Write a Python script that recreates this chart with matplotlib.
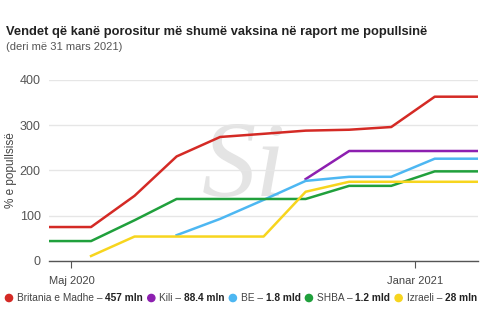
import matplotlib
matplotlib.use('Agg')
import matplotlib.pyplot as plt
import pandas as pd
import numpy as np

# monthly snapshots of doses ordered, % of population
dates = pd.to_datetime(['2020-04-15', '2020-05-15', '2020-06-15', '2020-07-15',
                        '2020-08-15', '2020-09-15', '2020-10-15', '2020-11-15',
                        '2020-12-15', '2021-01-15', '2021-02-15'])
uk = [75, 75, 144, 231, 274, 281, 288, 290, 296, 363, 363]
chile = [None, None, None, None, None, None, 181, 243, 243, 243, 243]
eu = [None, None, None, 57, 93, 135, 177, 186, 186, 226, 226]
usa = [44, 44, 90, 137, 137, 137, 137, 166, 166, 198, 198]
israel = [None, 11, 54, 54, 54, 54, 153, 175, 175, 175, 175]

names = ['Britania e Madhe', 'Kili', 'BE', 'SHBA', 'Izraeli']
doses = ['457 mln', '88.4 mln', '1.8 mld', '1.2 mld', '28 mln']
colors = ['#d42a25', '#8d1fb0', '#4db7f2', '#20a03c', '#f7d51e']
series = [uk, chile, eu, usa, israel]

tick_dates = pd.to_datetime(['2020-05-01', '2021-01-01'])
tick_labels = ['Maj 2020', 'Janar 2021']

plt.rcParams['font.family'] = ['Liberation Sans', 'DejaVu Sans']

W, H = 485, 325
fig = plt.figure(figsize=(W / 100, H / 100), dpi=100)
ax = fig.add_axes([0.101, 0.197, 0.885, 0.557])

# faint logo behind the lines
ax.text(0.455, 0.5, 'Si', transform=ax.transAxes, ha='center', va='center',
        fontsize=78, fontstyle='italic', family='Liberation Serif',
        color='#e4e4e4', zorder=0)

for vals, c in zip(series, colors):
    y = np.array([np.nan if v is None else v for v in vals], dtype=float)
    ax.plot(dates, y, color=c, lw=1.8, zorder=3)

ax.set_xlim(dates[0], dates[-1])
ax.set_ylim(0, 400)
ax.set_yticks([0, 100, 200, 300, 400])
ax.yaxis.grid(True, color='#e6e6e6', lw=1)
ax.set_axisbelow(True)
for s in ['top', 'right', 'left']:
    ax.spines[s].set_visible(False)
ax.spines['bottom'].set_color('#555555')
ax.spines['bottom'].set_linewidth(1)
ax.spines['bottom'].set_zorder(4)
ax.set_xticks(tick_dates)
ax.set_xticklabels(tick_labels)
ax.tick_params(axis='x', length=5, color='#555555', labelsize=8,
               labelcolor='#444444', pad=6)
ax.tick_params(axis='y', length=0, labelsize=9, labelcolor='#555555', pad=6)
ax.set_ylabel('% e popullsisë', fontsize=8.5, color='#444444')
ax.yaxis.set_label_coords(-0.074, 0.5)

fig.text(0.012, 0.9, 'Vendet që kanë porositur më shumë vaksina në raport me popullsinë',
         fontsize=9.3, fontweight='bold', color='#222222', va='center')
fig.text(0.012, 0.855, '(deri më 31 mars 2021)', fontsize=8, color='#555555', va='center')

# legend row: dot, plain name, bold dose figure, spread across the width
renderer = fig.canvas.get_renderer()
ly = 298
fs = 7.3
items = []
for name, dose, c in zip(names, doses, colors):
    t1 = fig.text(0, 0, name + ' – ', fontsize=fs, color='#444444', va='center')
    t2 = fig.text(0, 0, dose, fontsize=fs, fontweight='bold', color='#222222', va='center')
    w1 = t1.get_window_extent(renderer).width
    w2 = t2.get_window_extent(renderer).width
    items.append((t1, t2, w1, w2, c))
dot_w = 12
total = sum(dot_w + w1 + w2 for _, _, w1, w2, _ in items)
gap = (477 - 5 - total) / (len(items) - 1)
x = 5
for t1, t2, w1, w2, c in items:
    fig.patches.append(plt.Circle((x + 4, H - ly), 3.6, transform=None,
                                  color=c, figure=fig))
    t1.set_position(((x + dot_w) / W, 1 - ly / H))
    t2.set_position(((x + dot_w + w1) / W, 1 - ly / H))
    x += dot_w + w1 + w2 + gap

fig.savefig('out.png', dpi=100)
